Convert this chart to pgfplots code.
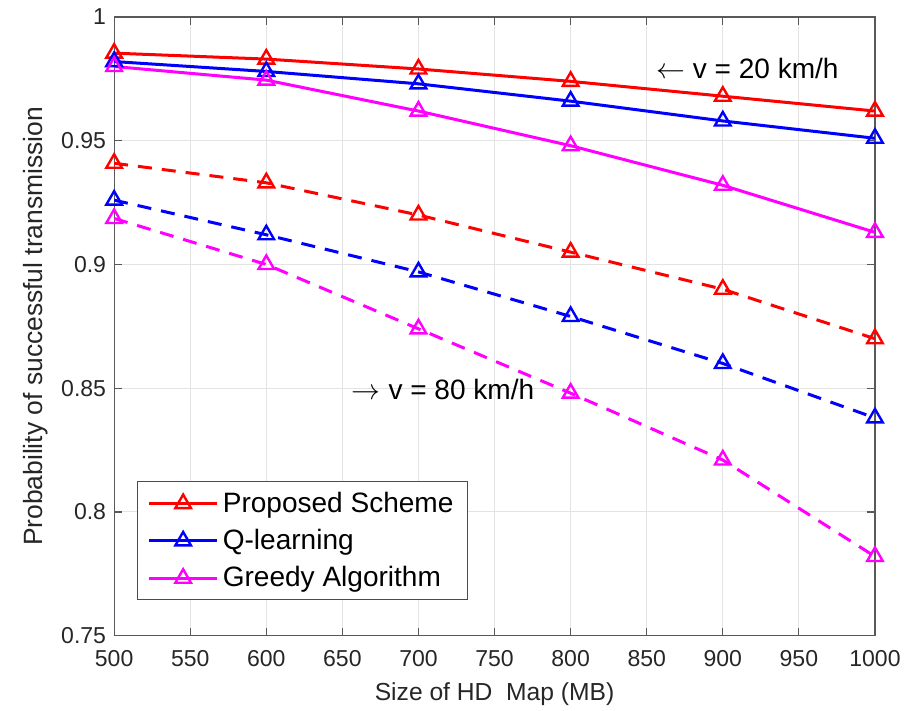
\documentclass[border=0pt]{standalone}
\usepackage{pgfplots}
\pgfplotsset{compat=1.18}
\usepackage{fontspec}
\setmainfont{Liberation Sans}
\definecolor{mred}{RGB}{255,0,0}
\definecolor{mblue}{RGB}{0,0,255}
\definecolor{mmag}{RGB}{255,0,255}
\begin{document}
\begin{tikzpicture}
\begin{axis}[
  scale only axis,
  width=380pt, height=309pt,
  xmin=500, xmax=1000, ymin=0.75, ymax=1,
  xtick={500,550,...,1000},
  xticklabels={500,550,600,650,700,750,800,850,900,950,1000},
  ytick={0.75,0.8,0.85,0.9,0.95,1},
  yticklabels={0.75,0.8,0.85,0.9,0.95,1},
  /pgf/number format/assume math mode=true,
  tick label style={font=\fontsize{11.5}{13}\selectfont, text=black!85},
  xticklabel style={anchor=center, yshift=-11.5pt},
  yticklabel style={xshift=-0.5pt},
  xlabel={Size of HD\ \ Map (MB)},
  ylabel={Probability of successful transmission},
  xlabel style={font=\fontsize{12.3}{14}\selectfont, text=black!85, at={(axis description cs:0.5,0)}, anchor=center, yshift=-29pt},
  ylabel style={font=\fontsize{13.2}{15}\selectfont, text=black!85, at={(axis description cs:0,0.5)}, anchor=center, yshift=39pt},
  grid=major,
  major grid style={gray!22, line width=0.5pt},
  axis line style={black!65, line width=0.6pt},
  tick style={black!65, line width=0.6pt},
  tick align=inside,
  major tick length=4pt,
  legend style={at={(0.03,0.057)}, anchor=south west, font=\fontsize{14}{17}\selectfont,
    draw=black!70, line width=0.5pt, row sep=3pt, inner xsep=5pt, inner ysep=3pt},
  legend cell align=left,
  legend image code/.code={\draw[mark repeat=2,mark phase=2] plot coordinates {(0cm,0cm) (0.6cm,0cm) (1.2cm,0cm)};},
  every axis plot/.append style={line width=1.5pt, mark=triangle, mark size=4.5pt, mark options={solid, line width=1.2pt}},
]
\addplot[mred] coordinates {(500,0.9854) (600,0.983) (700,0.979) (800,0.974) (900,0.968) (1000,0.962)};
\addlegendentry{Proposed Scheme}
\addplot[mblue] coordinates {(500,0.982) (600,0.978) (700,0.973) (800,0.966) (900,0.958) (1000,0.951)};
\addlegendentry{Q-learning}
\addplot[mmag] coordinates {(500,0.980) (600,0.9745) (700,0.962) (800,0.948) (900,0.932) (1000,0.913)};
\addlegendentry{Greedy Algorithm}
\addplot[mred, dash pattern=on 7pt off 5pt, forget plot] coordinates {(500,0.9409) (600,0.933) (700,0.920) (800,0.905) (900,0.890) (1000,0.870)};
\addplot[mblue, dash pattern=on 7pt off 5pt, forget plot] coordinates {(500,0.926) (600,0.912) (700,0.897) (800,0.879) (900,0.860) (1000,0.838)};
\addplot[mmag, dash pattern=on 7pt off 5pt, forget plot] coordinates {(500,0.9186) (600,0.900) (700,0.874) (800,0.848) (900,0.821) (1000,0.782)};
\node[anchor=west, font=\fontsize{14}{16}\selectfont, inner sep=0pt] at (axis cs:856,0.979) {$\leftarrow$ v = 20 km/h};
\node[anchor=west, font=\fontsize{14}{16}\selectfont, inner sep=0pt] at (axis cs:656,0.8495) {$\rightarrow$ v = 80 km/h};
\end{axis}
\pgfresetboundingbox
\path (current axis.south west) ++(-57pt,-37.5pt) coordinate (bbA);
\path (current axis.north east) ++(19pt,8.5pt) coordinate (bbB);
\useasboundingbox (bbA) rectangle (bbB);
\end{tikzpicture}
\end{document}
